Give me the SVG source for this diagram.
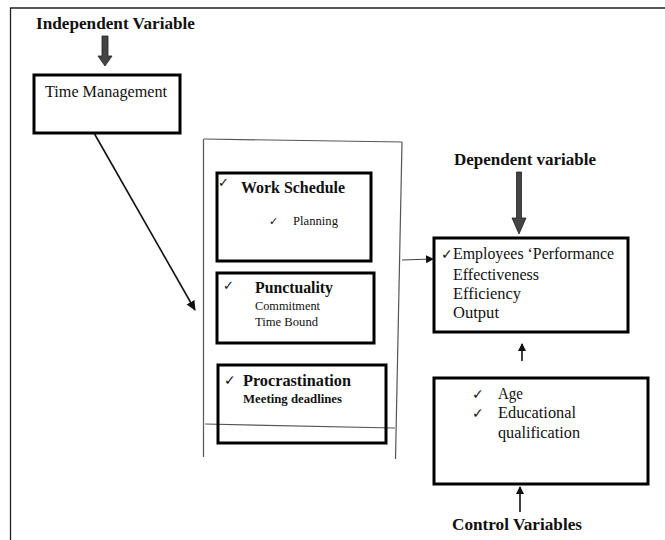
<svg xmlns="http://www.w3.org/2000/svg" width="665" height="540" viewBox="0 0 665 540">
<style>
text{font-family:"Liberation Serif","Times New Roman",serif;fill:#111}
.b{font-weight:bold}
.box{fill:none;stroke:#000;stroke-width:3}
.thin{fill:none;stroke:#555;stroke-width:1.2}
.ln{stroke:#111;stroke-width:1.6;fill:none}
</style>
<defs>
<marker id="ah" markerWidth="8" markerHeight="8" refX="7" refY="4" orient="auto" markerUnits="userSpaceOnUse">
<path d="M0,0 L8,4 L0,8 z" fill="#111"/>
</marker>
<marker id="ah2" markerWidth="10" markerHeight="10" refX="9" refY="5" orient="auto" markerUnits="userSpaceOnUse">
<path d="M0,0.5 L10,5 L0,9.5 z" fill="#111"/>
</marker>
</defs>
<rect width="665" height="540" fill="#fff"/>
<!-- outer frame -->
<path d="M10.5,540 V8 H665" fill="none" stroke="#222" stroke-width="1.3"/>

<g id="independent-label">
<text class="b" x="36" y="29" font-size="16.5" textLength="159" lengthAdjust="spacingAndGlyphs">Independent Variable</text>
<path d="M102,36 H108 V56 H112 L105,66 L98,56 H102 Z" fill="#444" stroke="#222" stroke-width="0.8"/>
</g>

<g id="time-management">
<rect class="box" x="34" y="75" width="146" height="58"/>
<text x="45" y="97" font-size="16" textLength="122" lengthAdjust="spacingAndGlyphs">Time Management</text>
</g>

<g id="group-frame">
<path d="M204,139 L402,142" class="thin"/>
<path d="M203.5,139 V457" class="thin"/>
<path d="M402,142 L395.5,459" class="thin"/>
<path d="M205,424 L395,428" class="thin"/>
</g>

<g id="work-schedule">
<rect class="box" x="217" y="173" width="154" height="88"/>
<text x="218" y="187" font-size="13">✓</text>
<text class="b" x="241" y="193" font-size="16" textLength="104" lengthAdjust="spacingAndGlyphs">Work Schedule</text>
<text x="269" y="225" font-size="11">✓</text>
<text x="293" y="225" font-size="12" textLength="45" lengthAdjust="spacingAndGlyphs">Planning</text>
</g>

<g id="punctuality">
<rect class="box" x="217" y="273" width="157" height="70"/>
<text x="223" y="290" font-size="13">✓</text>
<text class="b" x="255" y="293" font-size="16" textLength="78" lengthAdjust="spacingAndGlyphs">Punctuality</text>
<text x="255" y="310" font-size="12" textLength="65" lengthAdjust="spacingAndGlyphs">Commitment</text>
<text x="255" y="326" font-size="12" textLength="63" lengthAdjust="spacingAndGlyphs">Time Bound</text>
</g>

<g id="procrastination">
<rect class="box" x="218" y="365" width="168" height="78"/>
<text x="224" y="385" font-size="14">✓</text>
<text class="b" x="243" y="386" font-size="16" textLength="108" lengthAdjust="spacingAndGlyphs">Procrastination</text>
<text class="b" x="243" y="403" font-size="12" textLength="99" lengthAdjust="spacingAndGlyphs">Meeting deadlines</text>
</g>

<g id="dependent-label">
<text class="b" x="454" y="165" font-size="17" textLength="142" lengthAdjust="spacingAndGlyphs">Dependent variable</text>
<path d="M516.5,172 H521.5 V218 H526 L519,234 L512,218 H516.5 Z" fill="#444" stroke="#222" stroke-width="0.8"/>
</g>

<g id="employees-performance">
<rect class="box" x="434" y="238" width="194" height="94"/>
<text x="441" y="259" font-size="14">✓</text>
<text x="453" y="259" font-size="16" textLength="161" lengthAdjust="spacingAndGlyphs">Employees ‘Performance</text>
<text x="453" y="280" font-size="16" textLength="86" lengthAdjust="spacingAndGlyphs">Effectiveness</text>
<text x="453" y="299" font-size="16" textLength="68" lengthAdjust="spacingAndGlyphs">Efficiency</text>
<text x="453" y="318" font-size="16" textLength="46" lengthAdjust="spacingAndGlyphs">Output</text>
</g>

<g id="control-variables">
<rect class="box" x="434" y="378" width="214" height="106"/>
<text x="472" y="399" font-size="14">✓</text>
<text x="498" y="399" font-size="16" textLength="25" lengthAdjust="spacingAndGlyphs">Age</text>
<text x="472" y="418" font-size="14">✓</text>
<text x="498" y="418" font-size="16" textLength="78" lengthAdjust="spacingAndGlyphs">Educational</text>
<text x="498" y="438" font-size="16" textLength="82" lengthAdjust="spacingAndGlyphs">qualification</text>
<text class="b" x="452" y="530" font-size="17" textLength="130" lengthAdjust="spacingAndGlyphs">Control Variables</text>
</g>

<g id="connectors">
<line class="ln" x1="94" y1="133" x2="195" y2="310" marker-end="url(#ah2)"/>
<line x1="402" y1="260" x2="433" y2="259" stroke="#444" stroke-width="1.2" marker-end="url(#ah)"/>
<line class="ln" x1="522" y1="361" x2="522" y2="344" stroke-width="2.4" marker-end="url(#ah)"/>
<line class="ln" x1="520" y1="512" x2="520" y2="487" stroke-width="2.4" marker-end="url(#ah)"/>
</g>
</svg>
